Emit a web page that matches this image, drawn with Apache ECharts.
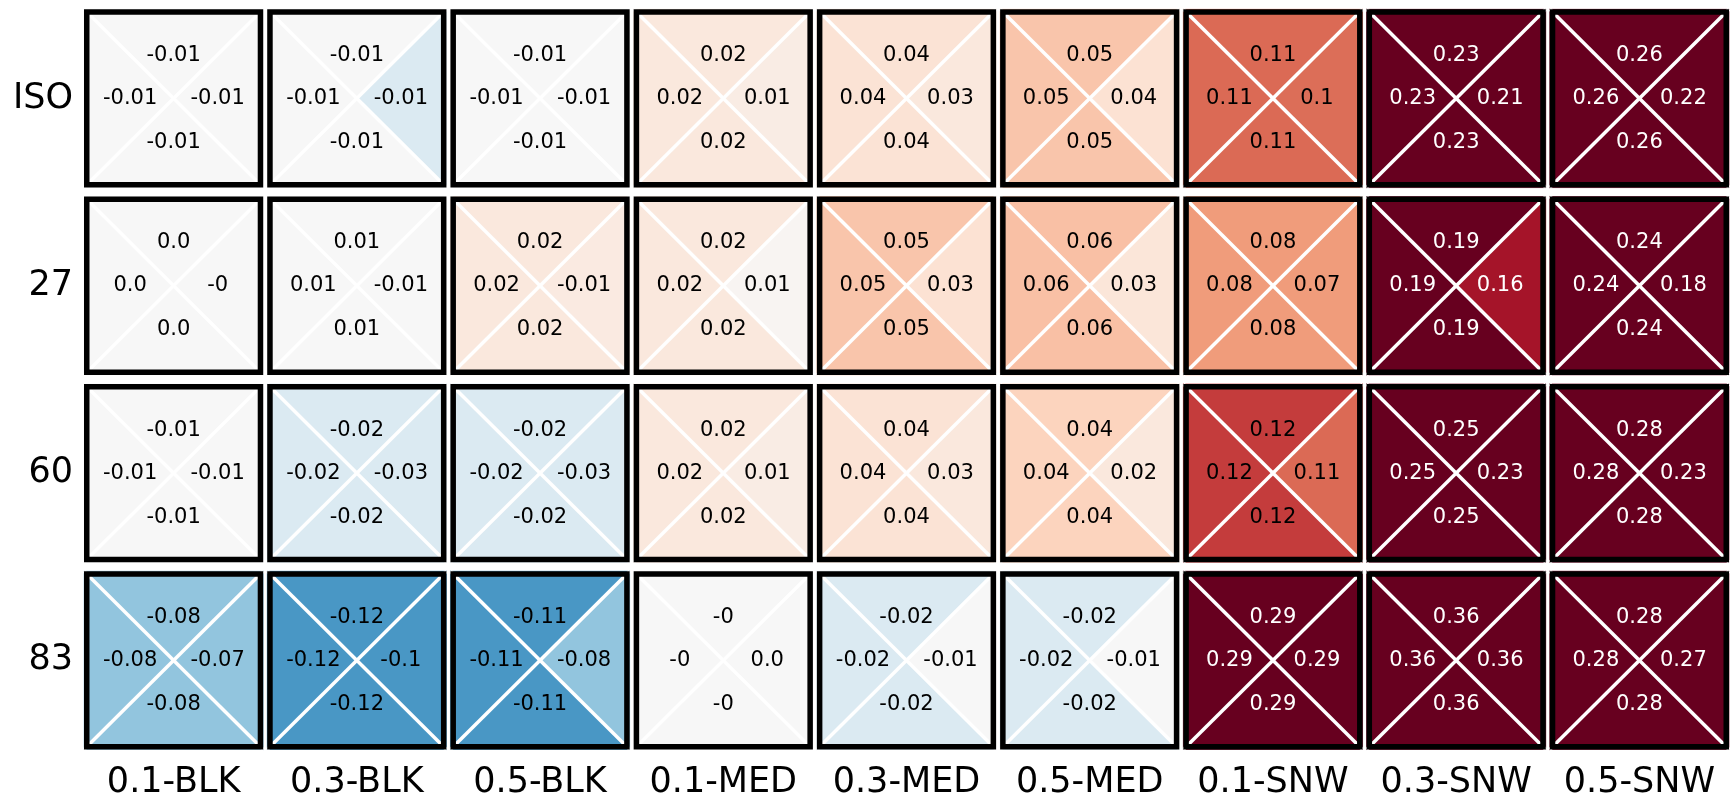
<!DOCTYPE html>
<html>
<head>
<meta charset="utf-8">
<script src="https://cdn.jsdelivr.net/npm/echarts@6/dist/echarts.min.js"></script>
<style>
  html, body { margin: 0; padding: 0; background: #ffffff; }
  #chart { width: 1731px; height: 800px; }
</style>
</head>
<body>
<div id="chart"></div>
<script>
// ---- data ----
const cols = ['0.1-BLK', '0.3-BLK', '0.5-BLK', '0.1-MED', '0.3-MED', '0.5-MED', '0.1-SNW', '0.3-SNW', '0.5-SNW'];
const rows = ['ISO', '27', '60', '83'];

// printed numbers: top, left and bottom triangles share one value, right triangle its own
const mainLabels = [
  ['-0.01', '-0.01', '-0.01', '0.02', '0.04', '0.05', '0.11', '0.23', '0.26'],
  ['0.0', '0.01', '0.02', '0.02', '0.05', '0.06', '0.08', '0.19', '0.24'],
  ['-0.01', '-0.02', '-0.02', '0.02', '0.04', '0.04', '0.12', '0.25', '0.28'],
  ['-0.08', '-0.12', '-0.11', '-0', '-0.02', '-0.02', '0.29', '0.36', '0.28']
];
const rightLabels = [
  ['-0.01', '-0.01', '-0.01', '0.01', '0.03', '0.04', '0.1', '0.21', '0.22'],
  ['-0', '-0.01', '-0.01', '0.01', '0.03', '0.03', '0.07', '0.16', '0.18'],
  ['-0.01', '-0.03', '-0.03', '0.01', '0.03', '0.02', '0.11', '0.23', '0.23'],
  ['-0.07', '-0.1', '-0.08', '0.0', '-0.01', '-0.01', '0.29', '0.36', '0.27']
];

// colour values (unrounded estimates read from the shading)
const mainShade = [
  [0.0, 0.0, 0.0, 0.022, 0.028, 0.056, 0.114, 0.23, 0.26],
  [0.0, 0.0, 0.022, 0.022, 0.056, 0.06, 0.085, 0.2, 0.24],
  [0.0, -0.03, -0.03, 0.022, 0.028, 0.045, 0.14, 0.25, 0.28],
  [-0.08, -0.117, -0.117, 0.0, -0.03, -0.03, 0.29, 0.36, 0.28]
];
const rightShade = [
  [0.0, -0.03, 0.0, 0.016, 0.022, 0.03, 0.112, 0.21, 0.22],
  [0.0, 0.0, 0.018, 0.004, 0.03, 0.025, 0.085, 0.167, 0.2],
  [0.0, -0.03, -0.03, 0.016, 0.022, 0.022, 0.114, 0.23, 0.23],
  [-0.08, -0.117, -0.08, 0.0, 0.0, 0.0, 0.29, 0.36, 0.27]
];

// ---- colour map (RdBu_r, -0.2 .. 0.2) ----
const stops = ['#053061', '#2166ac', '#4393c3', '#92c5de', '#d1e5f0', '#f7f7f7',
               '#fddbc7', '#f4a582', '#d6604d', '#b2182b', '#67001f'];
const VMIN = -0.2, VMAX = 0.2;
function hex2rgb(h) { return [1, 3, 5].map(i => parseInt(h.substr(i, 2), 16)); }
const stopRgb = stops.map(hex2rgb);
function cmap(v) {
  let t = (Math.min(VMAX, Math.max(VMIN, v)) - VMIN) / (VMAX - VMIN);
  let p = t * (stops.length - 1);
  let i = Math.min(stops.length - 2, Math.floor(p));
  let f = p - i;
  const a = stopRgb[i], b = stopRgb[i + 1];
  const c = a.map((x, k) => Math.round(x + (b[k] - x) * f));
  return 'rgb(' + c.join(',') + ')';
}
function textColor(v) { return Math.abs(v) >= 0.155 ? '#ffffff' : '#000000'; }

const cells = [];
rows.forEach((r, ri) => cols.forEach((c, ci) => cells.push([ci, ri])));

const FONT = 'DejaVu Sans';

function renderItem(params, api) {
  const ci = api.value(0), ri = api.value(1);
  const ctr = api.coord([ci, ri]);
  const band = api.size([1, 1]);
  const w = band[0] - 4, h = band[1] - 9;
  const cx = ctr[0], cy = ctr[1];
  const x0 = cx - w / 2, x1 = cx + w / 2, y0 = cy - h / 2, y1 = cy + h / 2;
  const m = mainShade[ri][ci], rs = rightShade[ri][ci];
  const mc = cmap(m), rc = cmap(rs);
  const tri = (pts, col) => ({
    type: 'polygon', shape: { points: pts },
    style: { fill: col, stroke: col, lineWidth: 0.6 }
  });
  const txt = (x, y, s, v) => ({
    type: 'text', x: x, y: y, z2: 10,
    style: { text: s, fill: textColor(v), font: '21px "' + FONT + '"', align: 'center', verticalAlign: 'middle' }
  });
  const ml = mainLabels[ri][ci], rl = rightLabels[ri][ci];
  return {
    type: 'group',
    children: [
      tri([[x0, y0], [x1, y0], [cx, cy]], mc),
      tri([[x1, y0], [x1, y1], [cx, cy]], rc),
      tri([[x1, y1], [x0, y1], [cx, cy]], mc),
      tri([[x0, y1], [x0, y0], [cx, cy]], mc),
      { type: 'line', shape: { x1: x0, y1: y0, x2: x1, y2: y1 }, style: { stroke: '#ffffff', lineWidth: 3.5 } },
      { type: 'line', shape: { x1: x1, y1: y0, x2: x0, y2: y1 }, style: { stroke: '#ffffff', lineWidth: 3.5 } },
      { type: 'rect', shape: { x: x0 + 2.75, y: y0 + 2.75, width: w - 5.5, height: h - 5.5 },
        style: { fill: null, stroke: '#000000', lineWidth: 5.5 } },
      txt(cx, cy - 43, ml, m),
      txt(cx, cy + 44, ml, m),
      txt(cx - 43.5, cy, ml, m),
      txt(cx + 44, cy, rl, rs)
    ]
  };
}

const chart = echarts.init(document.getElementById('chart'), null, { renderer: 'canvas' });
chart.setOption({
  backgroundColor: '#ffffff',
  animation: false,
  grid: { left: 82, top: 4.8, width: 1656, height: 752 },
  xAxis: {
    type: 'category', data: cols, position: 'bottom',
    axisLine: { show: false }, axisTick: { show: false }, splitLine: { show: false },
    axisLabel: { fontSize: 35, fontFamily: FONT, color: '#000000', margin: 11, interval: 0 }
  },
  yAxis: {
    type: 'category', data: rows, inverse: true,
    axisLine: { show: false }, axisTick: { show: false }, splitLine: { show: false },
    axisLabel: { fontSize: 35, fontFamily: FONT, color: '#000000', margin: 9 }
  },
  series: [{
    type: 'custom', renderItem: renderItem, data: cells, clip: false,
    encode: { x: 0, y: 1 }
  }]
});
</script>
</body>
</html>
